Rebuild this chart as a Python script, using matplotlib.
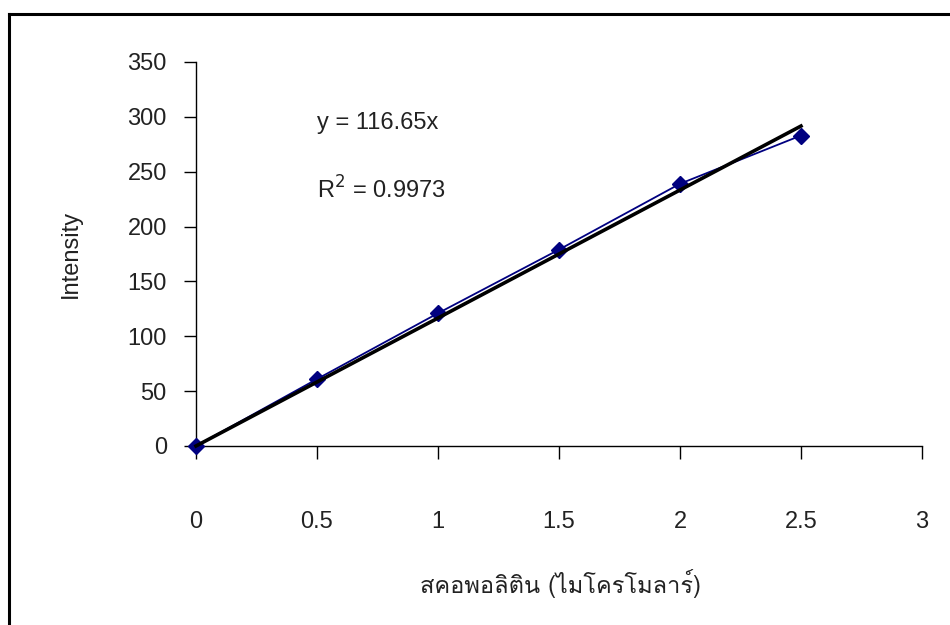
import matplotlib
matplotlib.use("Agg")
import matplotlib.pyplot as plt
from matplotlib import font_manager
from matplotlib.ft2font import FT2Font
from matplotlib.lines import Line2D

x_vals = [0, 0.5, 1, 1.5, 2, 2.5]
intensity = [0, 61, 121, 179, 239, 283]
slope = 116.65
r2_text = "0.9973"
x_ticks = [0, 0.5, 1, 1.5, 2, 2.5, 3]
y_ticks = [0, 50, 100, 150, 200, 250, 300, 350]
x_label = "สคอพอลิติน (ไมโครโมลาร์)"
y_label = "Intensity"

# find an installed font that has Thai glyphs
thai_font = None
for f in font_manager.fontManager.ttflist:
    try:
        if 0x0E2A in FT2Font(f.fname).get_charmap():
            thai_font = f.name
            break
    except Exception:
        pass

plt.rcParams['font.family'] = ['Liberation Sans', 'DejaVu Sans']
fs = 17

fig = plt.figure(figsize=(9.5, 6.25), dpi=100)
ax = fig.add_axes([0.2063, 0.2864, 0.7642, 0.6144])

# frame around the chart area (top and left edges only visible)
fig.add_artist(Line2D([9/950, 9/950], [0, 1 - 14/625], color='black', lw=2.2, transform=fig.transFigure))
fig.add_artist(Line2D([9/950, 1], [1 - 14/625, 1 - 14/625], color='black', lw=2.2, transform=fig.transFigure))

ax.plot(x_vals, intensity, color='#000080', lw=1.3, marker='D', markersize=8, zorder=3, clip_on=False)
ax.plot([x_vals[0], x_vals[-1]], [slope * x_vals[0], slope * x_vals[-1]], color='black', lw=2.6, zorder=4, clip_on=False)

ax.set_xlim(0, 3)
ax.set_ylim(0, 350)
ax.set_xticks(x_ticks)
ax.set_xticklabels([f"{t:g}" for t in x_ticks])
ax.set_yticks(y_ticks)
ax.spines['top'].set_visible(False)
ax.spines['right'].set_visible(False)
ax.spines['left'].set_linewidth(1)
ax.spines['bottom'].set_linewidth(1)
ax.tick_params(axis='x', direction='out', length=9, width=1, pad=38, labelsize=fs, colors='black')
ax.tick_params(axis='y', direction='out', length=9, width=1, pad=12, labelsize=fs, colors='black')
for lbl in ax.get_xticklabels() + ax.get_yticklabels():
    lbl.set_color('#222222')
ax.margins(0)

ax.text(0.50, 294, f"y = {slope:g}x", fontsize=fs, color='#222222', va='center', ha='left')
ax.text(0.50, 233, f"R$^2$ = {r2_text}", fontsize=fs, color='#222222', va='center', ha='left')

fig.text(71/950, 1 - 254/625, y_label, rotation=90, fontsize=fs, color='#222222', ha='center', va='center')
fam = [thai_font, 'DejaVu Sans'] if thai_font else ['DejaVu Sans']
fig.text(560/950, 1 - 584/625, x_label, fontsize=fs, color='#222222', ha='center', va='center', family=fam)

fig.savefig("out.png", dpi=100)
